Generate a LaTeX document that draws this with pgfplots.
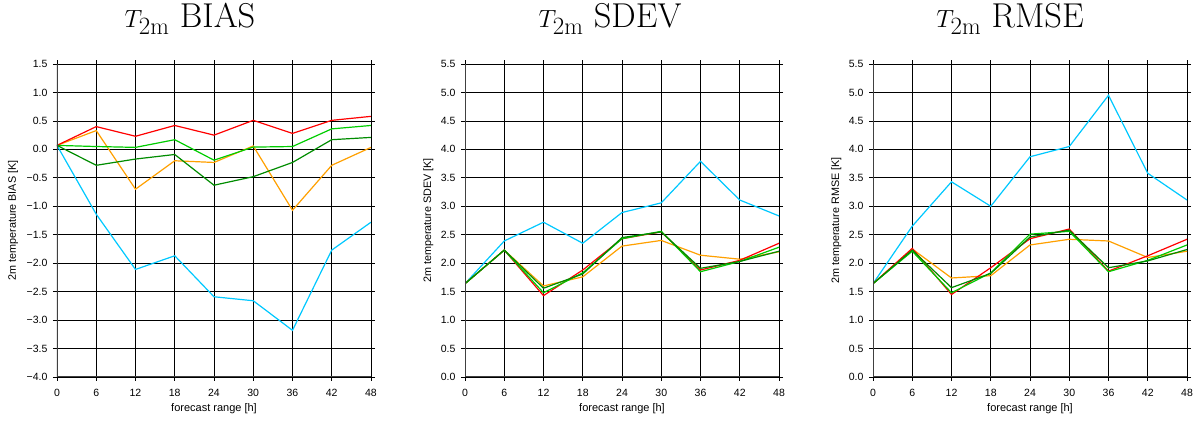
\documentclass[border=0pt]{standalone}
\usepackage{pgfplots}
\pgfplotsset{compat=1.18}
\usepackage{fontspec}
\newfontfamily\hv{Liberation Sans}
\definecolor{cRed}{RGB}{255,0,0}
\definecolor{cOrange}{RGB}{255,160,0}
\definecolor{cLGreen}{RGB}{0,205,0}
\definecolor{cDGreen}{RGB}{0,140,0}
\definecolor{cCyan}{RGB}{0,200,255}
\pgfplotsset{
  myax/.style={
    width=314pt, height=313pt, scale only axis,
    xmin=0, xmax=48, xtick={0,6,...,48},
    grid=major, grid style={black, line width=0.75pt},
    axis line style={black, line width=0.75pt},
    tick align=outside, tick pos=both, major tick length=4pt,
    tick style={black, line width=0.75pt},
    /pgf/number format/assume math mode=true,
    ticklabel style={font=\hv\fontsize{10.5}{12}\selectfont},
    xticklabel style={anchor=base, at={(axis cs:\tick,0)}},
    yticklabel style={xshift=-2pt},
    xlabel={forecast range [h]},
    xlabel style={font=\hv\fontsize{11}{13}\selectfont, at={(axis description cs:0.5,0)}, anchor=base, yshift=-35pt},
    ylabel style={font=\hv\fontsize{10.8}{13}\selectfont},
    title style={font=\fontsize{34.5}{40}\selectfont, inner sep=0pt, anchor=base, yshift=31pt},
    every axis plot/.append style={line width=1.2pt, no marks},
  }
}
\begin{document}
\begin{tikzpicture}
\useasboundingbox (-57pt,-46pt) rectangle (1146pt,377pt);
% BIAS
\begin{axis}[myax, at={(0pt,0pt)}, anchor=south west,
  ymin=-4, ymax=1.5, ytick={-4,-3.5,...,1.5},
  yticklabels={−4.0,−3.5,−3.0,−2.5,−2.0,−1.5,−1.0,−0.5,0.0,0.5,1.0,1.5},
  xticklabel style={yshift=-16pt},
  ylabel={2m temperature BIAS [K]},
  ylabel style={at={([xshift=-41pt]axis description cs:0,0.5)}, anchor=base},
  title style={at={([xshift=-24pt]axis description cs:0.5,1)}},
  title={$T_{2\mathrm{m}}$ BIAS}]
\addplot[cCyan] coordinates {(0,0.07)(6,-1.14)(12,-2.11)(18,-1.87)(24,-2.59)(30,-2.66)(36,-3.18)(42,-1.77)(48,-1.28)};
\addplot[cOrange] coordinates {(0,0.07)(6,0.33)(12,-0.70)(18,-0.20)(24,-0.23)(30,0.06)(36,-1.07)(42,-0.28)(48,0.035)};
\addplot[cRed] coordinates {(0,0.07)(6,0.40)(12,0.23)(18,0.42)(24,0.25)(30,0.51)(36,0.28)(42,0.51)(48,0.58)};
\addplot[cLGreen] coordinates {(0,0.07)(6,0.05)(12,0.035)(18,0.17)(24,-0.19)(30,0.04)(36,0.05)(42,0.36)(48,0.42)};
\addplot[cDGreen] coordinates {(0,0.07)(6,-0.28)(12,-0.17)(18,-0.09)(24,-0.63)(30,-0.48)(36,-0.23)(42,0.17)(48,0.21)};
\draw[black!75, line width=1.6pt] (rel axis cs:0,0) -- (rel axis cs:0,1);
\draw[black!75, line width=1.6pt] (rel axis cs:0,0) -- (rel axis cs:1,0);
\end{axis}
% SDEV
\begin{axis}[myax, at={(408pt,0pt)}, anchor=south west,
  ymin=0, ymax=5.5, ytick={0,0.5,...,5.5},
  yticklabels={0.0,0.5,1.0,1.5,2.0,2.5,3.0,3.5,4.0,4.5,5.0,5.5},
  xticklabel style={yshift=-16pt},
  ylabel={2m temperature SDEV [K]},
  ylabel style={at={([xshift=-34pt]axis description cs:0,0.5)}, anchor=base},
  title style={at={([xshift=-12pt]axis description cs:0.5,1)}},
  title={$T_{2\mathrm{m}}$ SDEV}]
\addplot[cCyan] coordinates {(0,1.64)(6,2.39)(12,2.72)(18,2.35)(24,2.89)(30,3.06)(36,3.79)(42,3.11)(48,2.83)};
\addplot[cOrange] coordinates {(0,1.64)(6,2.23)(12,1.60)(18,1.76)(24,2.30)(30,2.40)(36,2.14)(42,2.07)(48,2.20)};
\addplot[cRed] coordinates {(0,1.64)(6,2.23)(12,1.43)(18,1.88)(24,2.43)(30,2.55)(36,1.88)(42,2.05)(48,2.35)};
\addplot[cLGreen] coordinates {(0,1.64)(6,2.23)(12,1.48)(18,1.83)(24,2.43)(30,2.56)(36,1.85)(42,2.03)(48,2.28)};
\addplot[cDGreen] coordinates {(0,1.64)(6,2.23)(12,1.56)(18,1.81)(24,2.45)(30,2.55)(36,1.91)(42,2.03)(48,2.21)};
\draw[black!75, line width=1.6pt] (rel axis cs:0,0) -- (rel axis cs:0,1);
\draw[black!75, line width=1.6pt] (rel axis cs:0,0) -- (rel axis cs:1,0);
\end{axis}
% RMSE
\begin{axis}[myax, at={(816pt,0pt)}, anchor=south west,
  ymin=0, ymax=5.5, ytick={0,0.5,...,5.5},
  yticklabels={0.0,0.5,1.0,1.5,2.0,2.5,3.0,3.5,4.0,4.5,5.0,5.5},
  xticklabel style={yshift=-16pt},
  ylabel={2m temperature RMSE [K]},
  ylabel style={at={([xshift=-34pt]axis description cs:0,0.5)}, anchor=base},
  title style={at={([xshift=-20pt]axis description cs:0.5,1)}},
  title={$T_{2\mathrm{m}}$ RMSE}]
\addplot[cCyan] coordinates {(0,1.64)(6,2.65)(12,3.43)(18,3.00)(24,3.87)(30,4.05)(36,4.95)(42,3.58)(48,3.11)};
\addplot[cOrange] coordinates {(0,1.64)(6,2.25)(12,1.74)(18,1.78)(24,2.32)(30,2.42)(36,2.39)(42,2.10)(48,2.21)};
\addplot[cRed] coordinates {(0,1.64)(6,2.26)(12,1.45)(18,1.92)(24,2.43)(30,2.60)(36,1.86)(42,2.13)(48,2.42)};
\addplot[cLGreen] coordinates {(0,1.64)(6,2.21)(12,1.48)(18,1.83)(24,2.51)(30,2.56)(36,1.85)(42,2.05)(48,2.32)};
\addplot[cDGreen] coordinates {(0,1.64)(6,2.23)(12,1.57)(18,1.82)(24,2.46)(30,2.58)(36,1.92)(42,2.04)(48,2.24)};
\draw[black!75, line width=1.6pt] (rel axis cs:0,0) -- (rel axis cs:0,1);
\draw[black!75, line width=1.6pt] (rel axis cs:0,0) -- (rel axis cs:1,0);
\end{axis}
\end{tikzpicture}
\end{document}
